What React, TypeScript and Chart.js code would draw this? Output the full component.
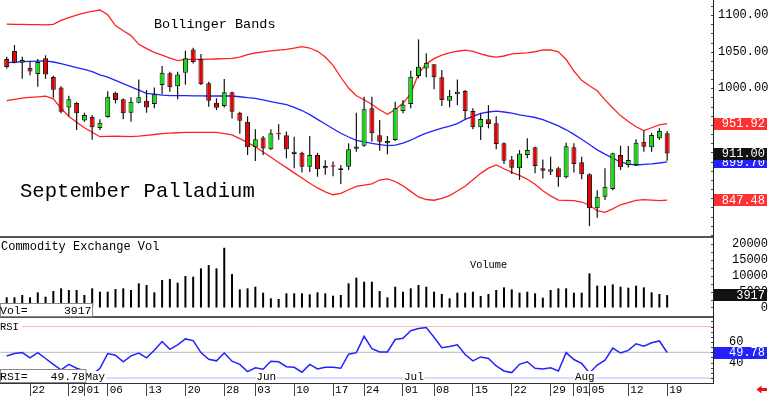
import React, { useEffect, useRef } from 'react';
import { Chart, registerables } from 'chart.js';

Chart.register(...registerables);

// ---------------- data ----------------
const DATES = [
  '04-17', '04-18', '04-19',
  '04-22', '04-23', '04-24', '04-25', '04-26',
  '04-29', '04-30', '05-01', '05-02', '05-03',
  '05-06', '05-07', '05-08', '05-09', '05-10',
  '05-13', '05-14', '05-15', '05-16', '05-17',
  '05-20', '05-21', '05-22', '05-23', '05-24',
  '05-28', '05-29', '05-30', '05-31',
  '06-03', '06-04', '06-05', '06-06', '06-07',
  '06-10', '06-11', '06-12', '06-13', '06-14',
  '06-17', '06-18', '06-20', '06-21',
  '06-24', '06-25', '06-26', '06-27', '06-28',
  '07-01', '07-02', '07-03', '07-05',
  '07-08', '07-09', '07-10', '07-11', '07-12',
  '07-15', '07-16', '07-17', '07-18', '07-19',
  '07-22', '07-23', '07-24', '07-25', '07-26',
  '07-29', '07-30', '07-31', '08-01', '08-02',
  '08-05', '08-06', '08-07', '08-08', '08-09',
  '08-12', '08-13', '08-14', '08-15', '08-16',
  '08-19',
];

const OPEN = [
  1040, 1051, 1035, 1028, 1019.5, 1041, 1015.5, 1001, 974, 980,
  956, 961, 946, 961, 994, 985, 966.7, 980.4, 983, 978.6,
  1004.5, 1020.5, 1003, 1021.3, 1053, 1040, 1006.8, 980.4, 975.9, 994.5,
  966.7, 954.4, 919.5, 933, 917, 939.2, 936, 910.4, 912, 893,
  909, 891, 895, 888.5, 893, 917.5, 921.7, 972.7, 936, 925,
  929.5, 969, 978.6, 1016.8, 1027, 1032.7, 1015, 983, 992, 996.3,
  969, 946.8, 957.7, 952.3, 925, 903, 891, 909, 919.5, 891,
  886.2, 891, 878.6, 919.5, 899, 882.7, 836.3, 852, 862.6, 909,
  895.4, 895.4, 927, 919.5, 931.8, 938.6,
];
const HIGH = [
  1043, 1059, 1043, 1037, 1040, 1045, 1017, 1003, 990, 981,
  966.7, 963.6, 957.7, 996, 995.4, 986, 987.7, 1012, 997.7, 1001,
  1030.4, 1022.6, 1022.6, 1051.3, 1055.5, 1046.8, 1009, 986.4, 1012.7, 995.4,
  968, 962, 944, 935, 944, 951, 941, 934, 913.5, 935,
  912, 902, 900, 895.4, 925, 966.7, 988.5, 988.5, 956.7, 935,
  981.7, 984, 1024, 1066.8, 1047.7, 1033, 1025, 997.7, 1012, 997.7,
  972.7, 966, 977, 962, 926, 907.6, 915.8, 931.8, 920.3, 903,
  906.7, 893, 925.8, 925, 906.7, 884, 861, 890.9, 912, 921.7,
  921.3, 930.4, 942, 939.4, 945.4, 941.7,
];
const LOW = [
  1027, 1034, 1013, 1017.7, 1002, 1013, 987, 966, 962, 943,
  954.4, 930, 943, 960, 979.5, 957.7, 954.4, 979.5, 966.7, 972.7,
  992, 995.4, 985, 1005, 1034, 1004.5, 975, 970.4, 974, 959,
  938, 909, 901, 909, 916, 930, 904.5, 891, 885, 886,
  879.4, 882, 880, 869.5, 888.5, 913.5, 920.3, 927, 915, 910,
  928, 966, 972.7, 1013.6, 1015, 998.6, 976, 974, 977, 958,
  944, 929.5, 945.4, 917, 896.7, 883, 875, 904.5, 884, 877,
  881.7, 865.7, 877, 885, 876, 812, 823.5, 847.6, 861, 888.5,
  892, 894, 913.5, 913.5, 929.5, 901.2,
];
const CLOSE = [
  1029, 1035, 1038.6, 1023, 1036, 1019, 998, 968, 985, 966,
  963.6, 947, 953, 988.5, 984, 966, 981.7, 987.7, 974, 991.8,
  1021.3, 1001.4, 1019, 1041, 1036, 1005.5, 983, 973.5, 994.5, 968,
  955.8, 919.5, 930.4, 918, 938.6, 937.2, 917, 913.5, 893, 909,
  889.5, 894, 893, 891, 916.8, 920.5, 971.4, 938.6, 927, 928,
  972.7, 978, 1015.8, 1029.5, 1035, 1015, 984, 990, 995.4, 969,
  946.8, 958, 951.3, 924, 901.3, 891.7, 911, 916, 894, 887.6,
  889.5, 878.6, 921, 896.7, 882.7, 836.3, 852, 865.8, 911.3, 892.2,
  902.2, 925.8, 920.3, 936.3, 941.7, 911,
];

const BB_UPPER = [
  1087.6, 1087.3, 1087.2, 1086.9, 1086.8, 1086.5, 1087.3, 1092.6, 1096.3, 1099.9,
  1102.9, 1105, 1106.8, 1100.3, 1085.7, 1078.6, 1071.9, 1060, 1054.2, 1049.1,
  1045.3, 1041.2, 1037.9, 1039.4, 1039.6, 1039.6, 1039.8, 1040, 1040.4, 1040.8,
  1042.6, 1046, 1048.2, 1049.7, 1051.2, 1052.2, 1053, 1054.8, 1056.8, 1055,
  1050.5, 1042.6, 1031.4, 1015.1, 1000.4, 989.8, 984.4, 977.9, 970.7, 964.5,
  970.9, 979.5, 992.8, 1019.9, 1033.4, 1040.5, 1045.3, 1048.4, 1050.6, 1052.2,
  1050.4, 1047.1, 1044.1, 1042.7, 1044.1, 1046.9, 1047.6, 1048.3, 1049.9, 1052.3,
  1052.3, 1049.9, 1039.3, 1023.6, 1010.9, 1003.5, 996.6, 984.2, 973.1, 962.8,
  954.8, 947.5, 942.4, 946.2, 950.1, 951.92,
];
const BB_MID = [
  1035.1, 1035.6, 1036.4, 1036.8, 1037.2, 1037.5, 1035.9, 1033.6, 1031.1, 1028.4,
  1025.8, 1022.9, 1018.4, 1015.3, 1010.8, 1006.4, 1002, 997.5, 993.2, 992,
  990.6, 990, 990, 990, 989.8, 989.6, 989.5, 989.5, 989.5, 989.5,
  988.5, 987.3, 986.4, 984.2, 982, 979.8, 977.8, 973.9, 969.7, 964.1,
  957.6, 951.4, 944.9, 938.7, 933.6, 928.9, 926.9, 924.8, 923.3, 921.7,
  922.4, 925.2, 929.2, 934.4, 939, 942.4, 945.7, 948.3, 951.8, 957.6,
  961.8, 965.8, 967.7, 968.8, 967.7, 966.3, 963.8, 962, 960.2, 957.4,
  953.2, 948.7, 943.4, 937.2, 930.6, 923.3, 916.1, 910.2, 904.8, 899.5,
  896.7, 895.4, 896.2, 897, 898.1, 899.7,
];
const BB_LOWER = [
  983.2, 985, 986.6, 987.6, 988.4, 989.3, 985.7, 972.7, 961.5, 953.7,
  946.2, 940.1, 934, 934.5, 934.9, 934.5, 934.1, 934.8, 935.9, 937,
  938.1, 938.9, 939.4, 940, 940, 940, 940, 940, 938.2, 936.4,
  931.4, 926.1, 920.2, 913.1, 906, 898.9, 891.8, 884.7, 877.6, 870.5,
  864.1, 858.7, 854.8, 856.7, 861.6, 866.2, 867.8, 869.6, 874.9, 876.5,
  872.9, 867, 859.4, 851.8, 848.3, 847.3, 850, 853.6, 860, 866.3,
  875.1, 884, 891.1, 895.4, 890.3, 885.4, 881.2, 876, 869.2, 860.3,
  853.2, 847.5, 847.1, 846.8, 844.9, 840.5, 833, 830.8, 835.6, 841.1,
  844.1, 847.1, 848.2, 847.6, 846.8, 847.48,
];

const VOLUME = [
  3220, 3220, 3950, 3220, 4800, 3420, 5210, 6060, 5530, 5530,
  3950, 6060, 5000, 5000, 5850, 6060, 5530, 7640, 7110, 4800,
  8690, 9000, 7850, 9950, 9740, 12380, 13430, 12380, 18900, 10590,
  5740, 6060, 6580, 4690, 2900, 2690, 4480, 4480, 4480, 4160,
  4800, 4480, 3740, 3950, 7640, 9430, 8160, 8160, 5210, 3220,
  6580, 5000, 6060, 7110, 6580, 5000, 4270, 2900, 4690, 4690,
  5000, 3630, 4270, 5530, 6370, 5740, 4690, 5000, 4480, 3110,
  5530, 6060, 6060, 4690, 4690, 10800, 6900, 6900, 7320, 6580,
  6270, 6900, 6370, 4800, 4270, 3917,
];

const RSI = [
  46.5, 48.8, 49.7, 44.6, 49.7, 44, 38.3, 32.9, 38.3, 34.5,
  31.9, 28.1, 34.5, 48.8, 47.1, 40.8, 46.5, 49.3, 44.6, 51.9,
  60.5, 52.9, 57.3, 63, 61.4, 49.7, 43.3, 41.7, 49.3, 41.4,
  38.3, 31.2, 35, 33.5, 41.4, 40.8, 36, 35.4, 30.7, 38.3,
  33.8, 35.4, 35.4, 34.5, 48.1, 49.7, 65.5, 53.5, 50.3, 50.3,
  62.4, 63.6, 71, 73.1, 74.1, 64.6, 54.5, 55.7, 57.3, 47.8,
  41.7, 45.5, 44, 36.7, 31.9, 30.3, 38.3, 40.8, 34.5, 33.8,
  35, 31.9, 49.7, 43, 39.2, 30, 37.6, 42.4, 54.1, 49.3,
  51.9, 58.3, 56, 59.2, 61, 49.78,
];

const X_TICK_DATES = [
  '04-22', '04-29', '05-01', '05-06', '05-13', '05-20', '05-28', '06-03', '06-10', '06-17',
  '06-24', '07-01', '07-08', '07-15', '07-22', '07-29', '08-01', '08-05', '08-12', '08-19',
];
const MONTH_START_DATES = ['05-01', '06-03', '07-01', '08-01'];
const MONTH_NAMES = ['May', 'Jun', 'Jul', 'Aug'];
const PRICE_TICKS = [900, 950, 1000, 1050, 1100];
const VOLUME_TICKS = [0, 5000, 10000, 15000, 20000];
const RSI_TICKS = [40, 60];
const RSI_LEVELS = [75, 50, 25];

const TITLE = 'September Palladium';
const STUDY_TITLE = 'Bollinger Bands';
const VOL_TITLE = 'Commodity Exchange Vol';
const VOL_LABEL = 'Volume';

// ---------------- layout / style ----------------
const W = 768;
const H = 396;
const AXIS_W = 55;
const X_MIN = -0.862;
const X_MAX = 90.9;
const P_MIN = 795.8;
const P_MAX = 1120.5;
const V_MIN = -3323;
const V_MAX = 21994;
const R_MIN = 20.2;
const R_MAX = 83.3;
const MONO = '"Liberation Mono", "DejaVu Sans Mono", monospace';
const GREEN = '#10dd10';
const RED = '#e60000';
const BAND_RED = '#ff2222';
const BAND_BLUE = '#2222ff';

const LAST = DATES.length - 1;

function valueBox(ctx: CanvasRenderingContext2D, yc: number, text: string, bg: string) {
  ctx.fillStyle = bg;
  ctx.fillRect(714, Math.round(yc - 6), 53, 12);
  ctx.fillStyle = '#fff';
  ctx.font = `12px ${MONO}`;
  ctx.textAlign = 'right';
  ctx.textBaseline = 'middle';
  ctx.fillText(text, 765, yc + 0.5);
}

function minorTicks(ctx: CanvasRenderingContext2D, scale: any, from: number, to: number, step: number) {
  ctx.fillStyle = '#444';
  for (let v = from; v <= to + 1e-6; v += step) {
    const py = Math.round(scale.getPixelForValue(v));
    ctx.fillRect(711, py, 2, 1);
  }
}

function rightAxis(min: number, max: number, ticks: number[], padding: number, crossAlign: string, fmt: (v: number) => string) {
  return {
    type: 'linear',
    position: 'right',
    min,
    max,
    afterFit: (s: any) => {
      s.width = AXIS_W;
      s.paddingTop = 0;
      s.paddingBottom = 0;
    },
    afterBuildTicks: (s: any) => {
      s.ticks = ticks.map((v) => ({ value: v }));
    },
    grid: { display: false, drawTicks: false },
    border: { display: true, color: '#222', width: 1 },
    ticks: {
      padding,
      crossAlign,
      autoSkip: false,
      color: '#000',
      font: { family: MONO, size: 12 },
      callback: (v: any) => fmt(Number(v)),
    },
  };
}

function hiddenX() {
  return { type: 'linear', min: X_MIN, max: X_MAX, offset: false, display: false };
}

const baseOptions = (padding: any) => ({
  responsive: false,
  animation: false,
  devicePixelRatio: 1,
  events: [],
  layout: { padding },
  plugins: { legend: { display: false }, tooltip: { enabled: false } },
});

export default function App() {
  const pRef = useRef<HTMLCanvasElement>(null);
  const vRef = useRef<HTMLCanvasElement>(null);
  const rRef = useRef<HTMLCanvasElement>(null);

  useEffect(() => {
    Chart.defaults.font.family = MONO;
    const charts: Chart[] = [];

    // ---------- price panel ----------
    const bodyColors = DATES.map((_, i) => (CLOSE[i] >= OPEN[i] ? GREEN : RED));
    const bodyBorders = DATES.map((_, i) => (Math.abs(CLOSE[i] - OPEN[i]) < 2.5 ? bodyColors[i] : '#111'));

    const pricePlugin = {
      id: 'priceDecor',
      afterDraw(chart: any) {
        const { ctx, chartArea: ca, scales } = chart;
        const y = scales.y;
        ctx.save();
        ctx.fillStyle = '#555';
        ctx.fillRect(0, ca.bottom - 2, ca.right, 2);
        minorTicks(ctx, y, 800, 1112.5, 12.5);
        ctx.fillStyle = '#000';
        ctx.textAlign = 'left';
        ctx.textBaseline = 'alphabetic';
        ctx.font = `13.5px ${MONO}`;
        ctx.fillText(STUDY_TITLE, 154, 28);
        ctx.font = `20.6px ${MONO}`;
        ctx.fillText(TITLE, 20, 197);
        valueBox(ctx, y.getPixelForValue(BB_UPPER[LAST]), BB_UPPER[LAST].toFixed(2), '#ff3030');
        valueBox(ctx, y.getPixelForValue(BB_LOWER[LAST]), BB_LOWER[LAST].toFixed(2), '#ff3030');
        valueBox(ctx, y.getPixelForValue(BB_MID[LAST]), BB_MID[LAST].toFixed(2), '#2222ff');
        valueBox(ctx, y.getPixelForValue(CLOSE[LAST]), CLOSE[LAST].toFixed(2), '#111');
        ctx.restore();
      },
    };

    charts.push(
      new Chart(pRef.current as HTMLCanvasElement, {
        type: 'bar',
        data: {
          datasets: [
            {
              type: 'bar',
              label: 'body',
              data: DATES.map((_, i) => ({ x: i, y: [OPEN[i], CLOSE[i]] })),
              backgroundColor: bodyColors,
              borderColor: bodyBorders,
              borderWidth: 1,
              borderSkipped: false,
              barThickness: 5,
              grouped: false,
              inflateAmount: 0,
            },
            {
              type: 'bar',
              label: 'wick',
              data: DATES.map((_, i) => ({ x: i, y: [LOW[i], HIGH[i]] })),
              backgroundColor: '#111',
              borderWidth: 0,
              barThickness: 1.2,
              grouped: false,
              inflateAmount: 0,
            },
            {
              type: 'line',
              label: 'upper',
              data: DATES.map((_, i) => ({ x: i, y: BB_UPPER[i] })),
              borderColor: BAND_RED,
              borderWidth: 1.3,
              pointRadius: 0,
              tension: 0,
            },
            {
              type: 'line',
              label: 'mid',
              data: DATES.map((_, i) => ({ x: i, y: BB_MID[i] })),
              borderColor: BAND_BLUE,
              borderWidth: 1.3,
              pointRadius: 0,
              tension: 0,
            },
            {
              type: 'line',
              label: 'lower',
              data: DATES.map((_, i) => ({ x: i, y: BB_LOWER[i] })),
              borderColor: BAND_RED,
              borderWidth: 1.3,
              pointRadius: 0,
              tension: 0,
            },
          ],
        } as any,
        options: {
          ...baseOptions({ top: 0, left: 0, right: 0, bottom: H - 238 }),
          scales: {
            x: hiddenX(),
            y: rightAxis(P_MIN, P_MAX, PRICE_TICKS, 5, 'near', (v) => v.toFixed(2)),
          },
        } as any,
        plugins: [pricePlugin],
      })
    );

    // ---------- volume panel ----------
    const volPlugin = {
      id: 'volDecor',
      afterDraw(chart: any) {
        const { ctx, chartArea: ca, scales } = chart;
        const y = scales.y;
        ctx.save();
        ctx.fillStyle = '#555';
        ctx.fillRect(0, ca.bottom - 2, ca.right, 2);
        minorTicks(ctx, y, 0, 20000, 2500);
        ctx.fillStyle = '#000';
        ctx.textAlign = 'left';
        ctx.textBaseline = 'alphabetic';
        ctx.font = `12px ${MONO}`;
        ctx.fillText(VOL_TITLE, 1, 250);
        ctx.font = `10.3px ${MONO}`;
        ctx.fillText(VOL_LABEL, 470, 267.5);
        // left value box
        ctx.fillStyle = '#fff';
        ctx.fillRect(0, 303, 93, 13);
        ctx.strokeStyle = '#888';
        ctx.lineWidth = 1;
        ctx.strokeRect(0.5, 303.5, 92, 13);
        ctx.fillStyle = '#000';
        ctx.font = `11.5px ${MONO}`;
        ctx.fillText('Vol=', 0, 314);
        ctx.textAlign = 'right';
        ctx.fillText(String(VOLUME[LAST]), 91.5, 314);
        valueBox(ctx, y.getPixelForValue(VOLUME[LAST]), String(VOLUME[LAST]), '#111');
        ctx.restore();
      },
    };

    charts.push(
      new Chart(vRef.current as HTMLCanvasElement, {
        type: 'bar',
        data: {
          datasets: [
            {
              type: 'bar',
              label: 'volume',
              data: DATES.map((_, i) => ({ x: i, y: VOLUME[i] })),
              backgroundColor: '#000',
              borderWidth: 0,
              barThickness: 2,
              inflateAmount: 0,
            },
          ],
        } as any,
        options: {
          ...baseOptions({ top: 238, left: 0, right: 0, bottom: H - 318 }),
          scales: {
            x: hiddenX(),
            y: rightAxis(V_MIN, V_MAX, VOLUME_TICKS, 16, 'far', (v) => String(v)),
          },
        } as any,
        plugins: [volPlugin],
      })
    );

    // ---------- RSI panel ----------
    const rsiPlugin = {
      id: 'rsiDecor',
      afterDraw(chart: any) {
        const { ctx, scales } = chart;
        const x = scales.x;
        const y = scales.y;
        ctx.save();
        minorTicks(ctx, y, 25, 80, 5);
        ctx.textBaseline = 'alphabetic';
        ctx.textAlign = 'left';
        // panel title
        ctx.fillStyle = '#fff';
        ctx.fillRect(0, 320, 22, 11);
        ctx.fillStyle = '#000';
        ctx.font = `10.5px ${MONO}`;
        ctx.fillText('RSI', 0, 329.5);
        // month labels
        ctx.font = `11px ${MONO}`;
        MONTH_START_DATES.forEach((d, k) => {
          const px = x.getPixelForValue(DATES.indexOf(d));
          ctx.fillStyle = '#fff';
          ctx.fillRect(px + 0.5, 371, 21, 11.5);
          ctx.fillStyle = '#000';
          ctx.textBaseline = 'middle';
          ctx.fillText(MONTH_NAMES[k], px + 1, 377.5);
        });
        // left value box
        ctx.textBaseline = 'alphabetic';
        ctx.fillStyle = '#fff';
        ctx.fillRect(0, 369.5, 86, 13);
        ctx.strokeStyle = '#888';
        ctx.lineWidth = 1;
        ctx.strokeRect(0.5, 369.5, 85.5, 13);
        ctx.fillStyle = '#000';
        ctx.font = `11.5px ${MONO}`;
        ctx.fillText('RSI=', 0, 379.5);
        ctx.textAlign = 'right';
        ctx.fillText(RSI[LAST].toFixed(2), 85, 379.5);
        valueBox(ctx, y.getPixelForValue(RSI[LAST]), RSI[LAST].toFixed(2), '#2222ff');
        // red arrow (bottom right)
        ctx.fillStyle = '#ee1111';
        ctx.beginPath();
        ctx.moveTo(756.5, 389.5);
        ctx.lineTo(761.5, 385.5);
        ctx.lineTo(761.5, 388);
        ctx.lineTo(767, 388);
        ctx.lineTo(767, 391);
        ctx.lineTo(761.5, 391);
        ctx.lineTo(761.5, 393.5);
        ctx.closePath();
        ctx.fill();
        ctx.restore();
      },
    };

    const levelColors = ['#ffb8b8', '#b8b8b8', '#b8b8ff'];

    charts.push(
      new Chart(rRef.current as HTMLCanvasElement, {
        type: 'line',
        data: {
          datasets: [
            {
              label: 'RSI',
              data: DATES.map((_, i) => ({ x: i, y: RSI[i] })),
              borderColor: '#2222ff',
              borderWidth: 1.5,
              pointRadius: 0,
              tension: 0,
            },
            ...RSI_LEVELS.map((lv, k) => ({
              label: 'level' + lv,
              data: [
                { x: X_MIN, y: lv },
                { x: X_MAX, y: lv },
              ],
              borderColor: levelColors[k],
              borderWidth: 1,
              pointRadius: 0,
            })),
          ],
        } as any,
        options: {
          ...baseOptions({ top: 318, left: 0, right: 0, bottom: 0 }),
          scales: {
            x: {
              type: 'linear',
              position: 'bottom',
              min: X_MIN,
              max: X_MAX,
              offset: false,
              afterFit: (s: any) => {
                s.height = 13;
                s.paddingLeft = 0;
                s.paddingRight = 0;
              },
              afterBuildTicks: (s: any) => {
                s.ticks = X_TICK_DATES.map((d) => ({ value: DATES.indexOf(d) }));
              },
              grid: {
                display: true,
                drawOnChartArea: false,
                drawTicks: true,
                tickLength: 13,
                color: '#444',
                lineWidth: 1,
              },
              border: { display: true, color: '#333', width: 1 },
              ticks: {
                align: 'start',
                labelOffset: 2,
                padding: -13,
                autoSkip: false,
                maxRotation: 0,
                minRotation: 0,
                color: '#000',
                font: { family: MONO, size: 11 },
                callback: (v: any) => {
                  const d = DATES[Math.round(Number(v))];
                  return d ? d.slice(3) : '';
                },
              },
            },
            y: rightAxis(R_MIN, R_MAX, RSI_TICKS, 16, 'near', (v) => String(v)),
          },
        } as any,
        plugins: [rsiPlugin],
      })
    );

    return () => charts.forEach((c) => c.destroy());
  }, []);

  const cs: React.CSSProperties = { position: 'absolute', left: 0, top: 0, width: W, height: H };
  return (
    <div style={{ position: 'fixed', left: 0, top: 0, width: W, height: H, background: '#fff', overflow: 'hidden' }}>
      <canvas ref={pRef} width={W} height={H} style={cs} />
      <canvas ref={vRef} width={W} height={H} style={cs} />
      <canvas ref={rRef} width={W} height={H} style={cs} />
    </div>
  );
}
